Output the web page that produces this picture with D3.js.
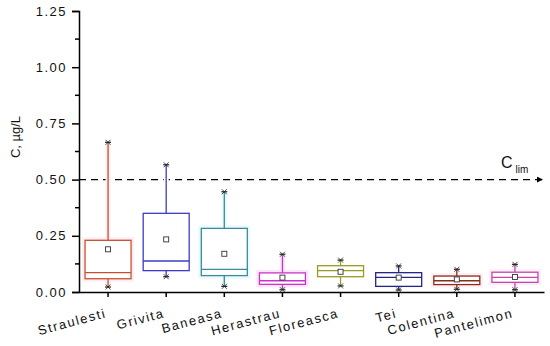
<!DOCTYPE html>
<html>
<head>
<meta charset="utf-8">
<script src="https://cdn.jsdelivr.net/npm/d3@7"></script>
<style>
  body { margin: 0; background: #fff; }
  svg text { font-family: Arial, "Liberation Sans", sans-serif; }
</style>
</head>
<body>
<div id="chart"></div>
<script>
// data
var sites = ['Straulesti', 'Grivita', 'Baneasa', 'Herastrau', 'Floreasca', 'Tei', 'Colentina', 'Pantelimon'];
var whiskerLow = [0.022, 0.068, 0.025, 0.010, 0.027, 0.009, 0.012, 0.010];
var q1 = [0.059, 0.095, 0.073, 0.034, 0.068, 0.025, 0.033, 0.043];
var median = [0.086, 0.138, 0.101, 0.050, 0.095, 0.065, 0.050, 0.065];
var q3 = [0.230, 0.350, 0.283, 0.085, 0.117, 0.086, 0.071, 0.088];
var whiskerHigh = [0.666, 0.566, 0.446, 0.168, 0.142, 0.116, 0.101, 0.123];
var mean = [0.190, 0.234, 0.170, 0.064, 0.090, 0.064, 0.056, 0.067];
var colors = ['#c8502e', '#3c3cc8', '#3a8c9c', '#cc33cc', '#9a9a22', '#24248c', '#8c2c1c', '#c844aa'];
var halos = ['#feeef4', '#ffffff', '#e8fafc', '#fce6fc', '#ffffff', '#ffffff', '#fdf0f3', '#fcedf8'];
var yTicks = [0, 0.25, 0.5, 0.75, 1.0, 1.25];
var cLim = 0.5;

var width = 550, height = 346;
var svg = d3.select('#chart').append('svg')
  .attr('width', width).attr('height', height);

var x = d3.scaleBand().domain(sites).range([79, 544]);
var y = d3.scaleLinear().domain([0, 1.25]).range([292, 11]);
var boxW = 46;

// ********** axes
var yAxis = d3.axisLeft(y).tickValues(yTicks).tickFormat(d3.format('.2f')).tickSize(7).tickPadding(5);
var gy = svg.append('g').attr('transform', 'translate(79,0)').call(yAxis);
gy.select('.domain').attr('stroke', '#000').attr('stroke-width', 1.5);
gy.selectAll('.tick line').attr('stroke-width', 1.5);
gy.selectAll('.tick text').attr('font-size', 13).attr('letter-spacing', 1.5).attr('fill', '#111');
// minor ticks
gy.selectAll('.minor').data(d3.range(0.125, 1.25, 0.25)).enter().append('line')
  .attr('x1', -4).attr('x2', 0)
  .attr('y1', function (d) { return y(d); }).attr('y2', function (d) { return y(d); })
  .attr('stroke', '#000').attr('stroke-width', 1.5);

var gx = svg.append('g').attr('transform', 'translate(0,292)')
  .call(d3.axisBottom(x).tickSize(5).tickSizeOuter(0));
gx.select('.domain').attr('stroke-width', 1.5);
gx.selectAll('.tick line').attr('stroke-width', 1.5);
gx.selectAll('.tick text')
  .attr('font-size', 13).attr('letter-spacing', 1.6).attr('fill', '#111')
  .attr('text-anchor', 'end')
  .attr('transform', 'translate(-1,25) rotate(-15)')
  .attr('dy', 0).attr('y', 0);

svg.append('text')
  .attr('transform', 'translate(20,137) rotate(-90)')
  .attr('text-anchor', 'middle').attr('font-size', 13).attr('fill', '#111')
  .text('C, µg/L');

// ********** limit line
svg.append('defs').append('marker')
  .attr('id', 'arrow').attr('viewBox', '0 0 10 10').attr('refX', 10).attr('refY', 5)
  .attr('markerWidth', 10).attr('markerHeight', 6).attr('orient', 'auto')
  .attr('markerUnits', 'userSpaceOnUse')
  .append('path').attr('d', 'M0,0 L10,5 L0,10 z').attr('fill', '#000');

svg.append('line')
  .attr('x1', 79).attr('x2', 543).attr('y1', y(cLim)).attr('y2', y(cLim))
  .attr('stroke', '#000').attr('stroke-width', 1.3).attr('stroke-dasharray', '7,5')
  .attr('marker-end', 'url(#arrow)');

var lab = svg.append('text').attr('x', 501).attr('y', y(cLim) - 12).attr('font-size', 16).attr('fill', '#111');
lab.append('tspan').text('C');
lab.append('tspan').attr('dx', 3).attr('dy', 5).attr('font-size', 10).text('lim');

// ********** boxes
var g = svg.selectAll('.box').data(sites).enter().append('g')
  .attr('class', 'box')
  .attr('transform', function (d) { return 'translate(' + (x(d) + x.bandwidth() / 2) + ',0)'; });

// pale halo behind each box
g.append('rect')
  .attr('x', -boxW / 2 - 3).attr('width', boxW + 6)
  .attr('y', function (d, i) { return y(q3[i]) - 3; })
  .attr('height', function (d, i) { return y(q1[i]) - y(q3[i]) + 6; })
  .attr('fill', function (d, i) { return halos[i]; });
g.append('rect')
  .attr('x', -2.5).attr('width', 5)
  .attr('y', function (d, i) { return y(whiskerHigh[i]); })
  .attr('height', function (d, i) { return y(whiskerLow[i]) - y(whiskerHigh[i]); })
  .attr('fill', function (d, i) { return halos[i]; });

// whiskers
g.append('line')
  .attr('x1', 0).attr('x2', 0)
  .attr('y1', function (d, i) { return y(whiskerHigh[i]); })
  .attr('y2', function (d, i) { return y(q3[i]); })
  .attr('stroke', function (d, i) { return colors[i]; }).attr('stroke-width', 1.3);
g.append('line')
  .attr('x1', 0).attr('x2', 0)
  .attr('y1', function (d, i) { return y(q1[i]); })
  .attr('y2', function (d, i) { return y(whiskerLow[i]); })
  .attr('stroke', function (d, i) { return colors[i]; }).attr('stroke-width', 1.3);

g.append('rect')
  .attr('x', -boxW / 2).attr('width', boxW)
  .attr('y', function (d, i) { return y(q3[i]); })
  .attr('height', function (d, i) { return y(q1[i]) - y(q3[i]); })
  .attr('fill', '#fff')
  .attr('stroke', function (d, i) { return colors[i]; }).attr('stroke-width', 1.3);

g.append('line')
  .attr('x1', -boxW / 2).attr('x2', boxW / 2)
  .attr('y1', function (d, i) { return y(median[i]); })
  .attr('y2', function (d, i) { return y(median[i]); })
  .attr('stroke', function (d, i) { return colors[i]; }).attr('stroke-width', 1.3);

// extreme markers
var star = d3.symbol().type(d3.symbolX).size(18);
[whiskerHigh, whiskerLow].forEach(function (arr) {
  g.append('line')
    .attr('x1', -3).attr('x2', 3)
    .attr('y1', function (d, i) { return y(arr[i]); })
    .attr('y2', function (d, i) { return y(arr[i]); })
    .attr('stroke', '#222').attr('stroke-width', 1.2);
  g.append('path')
    .attr('d', star)
    .attr('transform', function (d, i) { return 'translate(0,' + y(arr[i]) + ')'; })
    .attr('fill', '#222').attr('stroke', '#222').attr('stroke-width', 0.8);
});

// mean squares
g.append('rect')
  .attr('x', -2.5).attr('width', 5).attr('height', 5)
  .attr('y', function (d, i) { return y(mean[i]) - 2.5; })
  .attr('fill', '#fff').attr('stroke', '#333').attr('stroke-width', 0.9);
</script>
</body>
</html>
